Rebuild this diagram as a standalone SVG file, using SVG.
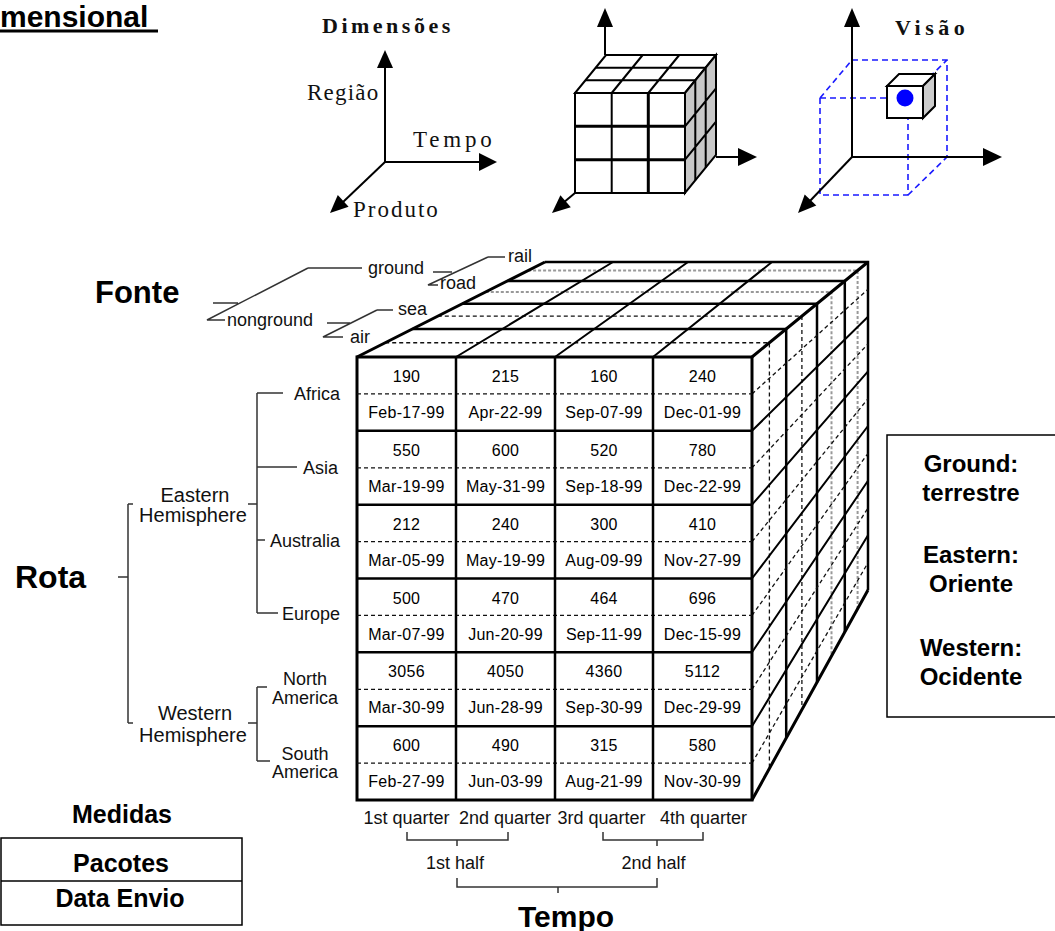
<svg xmlns="http://www.w3.org/2000/svg" width="1055" height="931" viewBox="0 0 1055 931">
<style>
.s{font-family:"Liberation Sans",Arial,sans-serif}
.b{font-family:"Liberation Sans",Arial,sans-serif;font-weight:bold;fill:#000}
.sr{font-family:"Liberation Serif","Times New Roman",serif;fill:#111}
.cell{font-family:"Liberation Sans",Arial,sans-serif;font-size:16px;text-anchor:middle;fill:#000;letter-spacing:0.3px}
.lab{font-family:"Liberation Sans",Arial,sans-serif;font-size:18px;fill:#111}
.hem{font-family:"Liberation Sans",Arial,sans-serif;font-size:20px;fill:#111;text-anchor:middle}
.k{stroke:#000;fill:none}
.t{stroke:#333;stroke-width:1.5;fill:none}
.d{stroke:#111;stroke-width:1.3;stroke-dasharray:4 3;fill:none}
.g{stroke:#999;stroke-width:2;stroke-dasharray:3 2;fill:none}
.bd{stroke:#1a1aff;stroke-width:1.6;stroke-dasharray:6 4;fill:none}
.ax{stroke:#000;stroke-width:2;fill:none}
</style>
<rect width="1055" height="931" fill="#fff"/>

<g id="title">
<text class="b" x="0" y="27" font-size="30">mensional</text>
<line x1="0" y1="31" x2="158" y2="31" stroke="#000" stroke-width="3"/>
</g>

<g id="dimensoes">
<text class="sr" x="322" y="33" font-size="22" font-weight="bold" letter-spacing="3.5">Dimensões</text>
<line class="ax" x1="385" y1="162" x2="385" y2="66"/>
<polygon points="385,50 377,68 393,68"/>
<line class="ax" x1="385" y1="162" x2="481" y2="162"/>
<polygon points="497,162 479,153 479,171"/>
<line class="ax" x1="385" y1="162" x2="342" y2="203"/>
<polygon points="330,213 348.6,206.7 337.8,194.9"/>
<text class="sr" x="307" y="100" font-size="23" letter-spacing="1.2">Região</text>
<text class="sr" x="413" y="147" font-size="23" letter-spacing="3.8">Tempo</text>
<text class="sr" x="353" y="217" font-size="23" letter-spacing="2">Produto</text>
</g>

<g id="cubo">
<line class="ax" x1="605" y1="55" x2="605" y2="25"/>
<polygon points="605,8 597,27 613,27"/>
<line class="ax" x1="716" y1="157" x2="740" y2="157"/>
<polygon points="757,157 738,148 738,166"/>
<line class="ax" x1="575" y1="193" x2="563" y2="203"/>
<polygon points="552,213 570.8,207.2 560.4,195.2"/>
<polygon points="575,93 685,93 716,55 606,55" fill="#fff" stroke="#000" stroke-width="2"/>
<polygon points="685,93 716,55 716,155 685,193" fill="#c8c8c8" stroke="#000" stroke-width="2"/>
<path class="k" stroke-width="2" d="M585.3,80.3 H695.3 M595.7,67.7 H705.7 M611.7,93 L642.7,55 M648.3,93 L679.3,55 M695.3,80.3 V180.3 M705.7,67.7 V167.7 M685,126.3 L716,88.3 M685,159.7 L716,121.7"/>
<rect x="575" y="93" width="110" height="100" fill="#fff" stroke="#000" stroke-width="2"/>
<path class="k" stroke-width="2" d="M611.7,93 V193"/>
<path class="k" stroke-width="3" d="M648.3,93 V193 M575,126.3 H685 M575,159.7 H685"/>
</g>

<g id="visao">
<text class="sr" x="895" y="35" font-size="22" font-weight="bold" letter-spacing="4.5">Visão</text>
<path class="bd" d="M820,98 V195 H908 V118 M820,98 H887 M852,60 H947 V157 M820,98 L852,60 M908,195 L947,157 M908,98 L947,60"/>
<line class="ax" x1="852" y1="157" x2="852" y2="25"/>
<polygon points="852,8 844,27 860,27"/>
<line class="ax" x1="852" y1="157" x2="985" y2="157"/>
<polygon points="1002,157 983,148 983,166"/>
<line class="ax" x1="852" y1="157" x2="809" y2="202"/>
<polygon points="798,213 816.3,205.6 804.7,194.4"/>
<polygon points="887,86 923,86 935,74 899,74" fill="#fff" stroke="#000" stroke-width="2"/>
<polygon points="923,86 935,74 935,106 923,118" fill="#ccc" stroke="#000" stroke-width="2"/>
<rect x="887" y="86" width="36" height="32" fill="#fff" stroke="#000" stroke-width="2"/>
<circle cx="905" cy="98" r="8.5" fill="#0000ff"/>
</g>

<g id="cubo-grande">
<g id="face-topo">
<path class="d" d="M385.2,342.75 H769.4 V768.5 M437.8,316.15 H801.9 V709.7"/>
<path class="g" d="M485.8,291.9 H831.5 V656.1 M528.1,270.55 H857.6 V608.9"/>
<path class="k" stroke-width="2.5" d="M412.5,329 H786.2 V738 M462.3,303.8 H817 V682.4 M507.4,281 H844.8 V632 M545,262 H868 V590"/>
<path class="k" stroke-width="2" d="M456,357 L613,262 M555,357 L688,262 M653,357 L772,262"/>
<path class="k" stroke-width="3" d="M357,357 L545,262 M752,357 L868,262 M752,800 L868,590"/>
</g>
<g id="face-lado">
<path class="k" stroke-width="2" d="M752,430.8 L868,316.7 M752,504.7 L868,371.3 M752,578.5 L868,426 M752,652.3 L868,480.7 M752,726.2 L868,535.3"/>
<path class="d" d="M752,393.9 L868,289.3 M752,467.8 L868,344 M752,541.6 L868,398.7 M752,615.4 L868,453.3 M752,689.3 L868,508 M752,763.1 L868,562.7"/>
</g>
<g id="face-frente">
<rect x="357" y="357" width="395" height="443" fill="#fff" stroke="#000" stroke-width="3"/>
<path class="d" d="M357,393.9 H752 M357,467.8 H752 M357,541.6 H752 M357,615.4 H752 M357,689.3 H752 M357,763.1 H752"/>
<path class="k" stroke-width="2.5" d="M456,357 V800 M555,357 V800 M653,357 V800 M357,430.8 H752 M357,504.7 H752 M357,578.5 H752 M357,652.3 H752 M357,726.2 H752"/>
</g>
<g id="celulas">
<text class="cell" x="406.5" y="382">190</text><text class="cell" x="505.5" y="382">215</text><text class="cell" x="604" y="382">160</text><text class="cell" x="702.5" y="382">240</text>
<text class="cell" x="406.5" y="418">Feb-17-99</text><text class="cell" x="505.5" y="418">Apr-22-99</text><text class="cell" x="604" y="418">Sep-07-99</text><text class="cell" x="702.5" y="418">Dec-01-99</text>
<text class="cell" x="406.5" y="455.8">550</text><text class="cell" x="505.5" y="455.8">600</text><text class="cell" x="604" y="455.8">520</text><text class="cell" x="702.5" y="455.8">780</text>
<text class="cell" x="406.5" y="491.8">Mar-19-99</text><text class="cell" x="505.5" y="491.8">May-31-99</text><text class="cell" x="604" y="491.8">Sep-18-99</text><text class="cell" x="702.5" y="491.8">Dec-22-99</text>
<text class="cell" x="406.5" y="529.7">212</text><text class="cell" x="505.5" y="529.7">240</text><text class="cell" x="604" y="529.7">300</text><text class="cell" x="702.5" y="529.7">410</text>
<text class="cell" x="406.5" y="565.7">Mar-05-99</text><text class="cell" x="505.5" y="565.7">May-19-99</text><text class="cell" x="604" y="565.7">Aug-09-99</text><text class="cell" x="702.5" y="565.7">Nov-27-99</text>
<text class="cell" x="406.5" y="603.5">500</text><text class="cell" x="505.5" y="603.5">470</text><text class="cell" x="604" y="603.5">464</text><text class="cell" x="702.5" y="603.5">696</text>
<text class="cell" x="406.5" y="639.5">Mar-07-99</text><text class="cell" x="505.5" y="639.5">Jun-20-99</text><text class="cell" x="604" y="639.5">Sep-11-99</text><text class="cell" x="702.5" y="639.5">Dec-15-99</text>
<text class="cell" x="406.5" y="677.3">3056</text><text class="cell" x="505.5" y="677.3">4050</text><text class="cell" x="604" y="677.3">4360</text><text class="cell" x="702.5" y="677.3">5112</text>
<text class="cell" x="406.5" y="713.3">Mar-30-99</text><text class="cell" x="505.5" y="713.3">Jun-28-99</text><text class="cell" x="604" y="713.3">Sep-30-99</text><text class="cell" x="702.5" y="713.3">Dec-29-99</text>
<text class="cell" x="406.5" y="751.2">600</text><text class="cell" x="505.5" y="751.2">490</text><text class="cell" x="604" y="751.2">315</text><text class="cell" x="702.5" y="751.2">580</text>
<text class="cell" x="406.5" y="787.2">Feb-27-99</text><text class="cell" x="505.5" y="787.2">Jun-03-99</text><text class="cell" x="604" y="787.2">Aug-21-99</text><text class="cell" x="702.5" y="787.2">Nov-30-99</text>
</g>
</g>

<g id="conectores">
<path class="t" d="M308,268 H362 M308,268 L207,320 H225 M238,303 H213"/>
<path class="t" d="M433,272 H452 M488,257 H505 M488,257 L428,285 H438"/>
<path class="t" d="M327,323 H350 M377,310 H393 M377,310 L323,337 H343"/>
<path class="t" d="M257,393 V613 M257,393 H283 M257,467 H297 M257,540 H265 M257,613 H278 M248,504 H257"/>
<path class="t" d="M257,687 V761 M257,687 H267 M257,761 H270 M248,723 H257"/>
<path class="t" d="M128,504 V723 M128,504 H133 M128,723 H133 M118,577 H128"/>
<path class="t" d="M407,832 V840 H508 V832 M457,840 V846 M603,832 V840 H703 V832 M657,840 V846 M457,878 V887 H657 V878 M558,887 V893"/>
</g>

<g id="fonte">
<text class="b" x="95" y="303" font-size="31">Fonte</text>
<text class="lab" x="368" y="274" font-size="20">ground</text>
<text class="lab" x="227" y="326" font-size="20">nonground</text>
<text class="lab" x="508" y="262" font-size="17">rail</text>
<text class="lab" x="440" y="289" font-size="17">road</text>
<text class="lab" x="398" y="315" font-size="17">sea</text>
<text class="lab" x="350" y="343" font-size="17">air</text>
</g>

<g id="rota">
<text class="b" x="15" y="588" font-size="32">Rota</text>
<text class="hem" x="195" y="502">Eastern</text>
<text class="hem" x="193" y="522">Hemisphere</text>
<text class="hem" x="195" y="720">Western</text>
<text class="hem" x="193" y="742">Hemisphere</text>
<text class="lab" x="340" y="399.5" text-anchor="end">Africa</text>
<text class="lab" x="338" y="473.5" text-anchor="end">Asia</text>
<text class="lab" x="340" y="546.5" text-anchor="end">Australia</text>
<text class="lab" x="340" y="619.5" text-anchor="end">Europe</text>
<text class="lab" x="305" y="684.5" text-anchor="middle">North</text>
<text class="lab" x="305" y="703.5" text-anchor="middle">America</text>
<text class="lab" x="305" y="759.5" text-anchor="middle">South</text>
<text class="lab" x="305" y="777.5" text-anchor="middle">America</text>
</g>

<g id="tempo">
<text class="lab" x="406.5" y="823.5" font-size="16" text-anchor="middle">1st quarter</text>
<text class="lab" x="505" y="823.5" font-size="16" text-anchor="middle">2nd quarter</text>
<text class="lab" x="601.5" y="823.5" font-size="16" text-anchor="middle">3rd quarter</text>
<text class="lab" x="703.5" y="823.5" font-size="16" text-anchor="middle">4th quarter</text>
<text class="lab" x="455" y="869" font-size="20" text-anchor="middle">1st half</text>
<text class="lab" x="653.5" y="869" font-size="20" text-anchor="middle">2nd half</text>
<text class="b" x="566" y="927" font-size="30" text-anchor="middle">Tempo</text>
</g>

<g id="medidas">
<text class="b" x="122" y="823" font-size="25" text-anchor="middle">Medidas</text>
<rect x="1" y="838" width="241" height="87" fill="none" stroke="#000" stroke-width="1.5"/>
<line x1="1" y1="881" x2="242" y2="881" stroke="#000" stroke-width="1.5"/>
<text class="b" x="121" y="872" font-size="25" text-anchor="middle">Pacotes</text>
<text class="b" x="120" y="907" font-size="25" text-anchor="middle">Data Envio</text>
</g>

<g id="legenda">
<path d="M1055,435 H887 V717 H1055" fill="none" stroke="#000" stroke-width="1.5"/>
<text class="b" x="971" y="472" font-size="24" text-anchor="middle">Ground:</text>
<text class="b" x="971" y="501" font-size="24" text-anchor="middle">terrestre</text>
<text class="b" x="971" y="563" font-size="24" text-anchor="middle">Eastern:</text>
<text class="b" x="971" y="592" font-size="24" text-anchor="middle">Oriente</text>
<text class="b" x="971" y="656" font-size="24" text-anchor="middle">Western:</text>
<text class="b" x="971" y="685" font-size="24" text-anchor="middle">Ocidente</text>
</g>
</svg>
